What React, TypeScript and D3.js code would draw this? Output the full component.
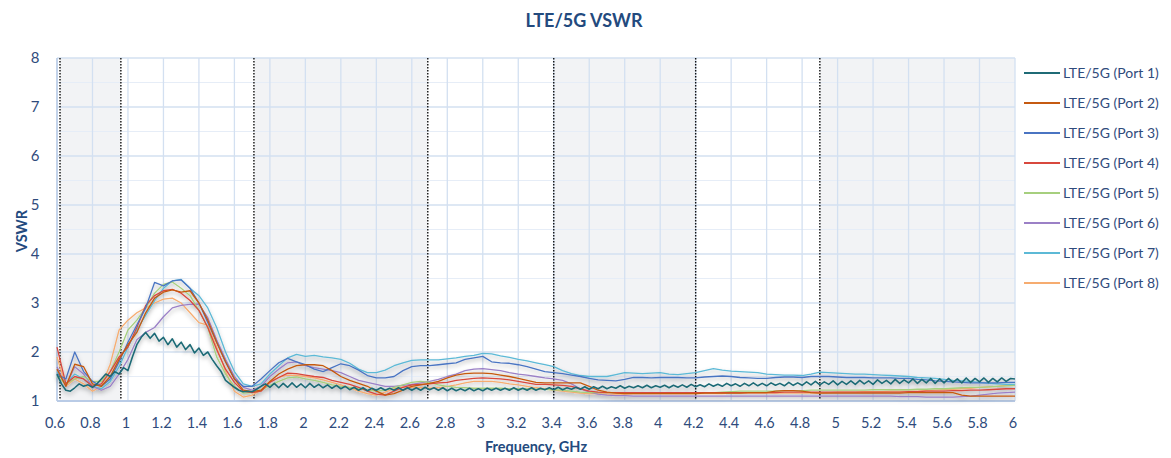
import * as d3 from "d3";
import React from "react";

// frequency grid for ports 2..8 (GHz): start + i * step
const GRID_START = 0.6;
const GRID_STEP = 0.05;
// port 1 is sampled finer, its ripple is visible
const P1_STEP = 0.025;

const port1 = [
  1.55, 1.35, 1.22, 1.2, 1.27, 1.35, 1.3, 1.33, 1.28, 1.35, 1.45, 1.55, 1.5, 1.6, 1.55, 1.68, 1.62, 1.9, 2.15, 2.3,
  2.4, 2.28, 2.38, 2.22, 2.3, 2.15, 2.27, 2.1, 2.2, 2.05, 2.15, 1.98, 2.08, 1.93, 2.0, 1.85, 1.72, 1.6, 1.42, 1.35,
  1.28, 1.22, 1.19, 1.2, 1.19, 1.24, 1.3, 1.35, 1.28, 1.36, 1.27, 1.36, 1.28, 1.37, 1.28, 1.35, 1.27, 1.36, 1.28, 1.34,
  1.27, 1.33, 1.26, 1.32, 1.25, 1.3, 1.23, 1.28, 1.22, 1.27, 1.21, 1.26, 1.22, 1.27, 1.22, 1.26, 1.22, 1.27, 1.22, 1.27,
  1.22, 1.27, 1.22, 1.28, 1.23, 1.27, 1.22, 1.27, 1.21, 1.26, 1.21, 1.25, 1.21, 1.26, 1.21, 1.25, 1.21, 1.26, 1.22, 1.26,
  1.22, 1.26, 1.22, 1.27, 1.22, 1.26, 1.22, 1.27, 1.22, 1.26, 1.23, 1.27, 1.23, 1.28, 1.23, 1.27, 1.24, 1.28, 1.24, 1.29,
  1.24, 1.29, 1.25, 1.3, 1.25, 1.29, 1.26, 1.31, 1.26, 1.3, 1.27, 1.31, 1.27, 1.32, 1.27, 1.31, 1.28, 1.32, 1.27, 1.32,
  1.28, 1.33, 1.28, 1.34, 1.29, 1.33, 1.29, 1.35, 1.3, 1.34, 1.3, 1.36, 1.31, 1.35, 1.3, 1.36, 1.31, 1.37, 1.31, 1.36,
  1.31, 1.37, 1.32, 1.36, 1.31, 1.38, 1.32, 1.37, 1.32, 1.39, 1.33, 1.4, 1.33, 1.39, 1.34, 1.41, 1.33, 1.4, 1.34, 1.41,
  1.34, 1.42, 1.35, 1.41, 1.34, 1.43, 1.36, 1.42, 1.35, 1.44, 1.36, 1.43, 1.37, 1.45, 1.36, 1.44, 1.37, 1.46, 1.36, 1.45,
  1.37, 1.46, 1.38, 1.45, 1.37, 1.47, 1.38, 1.46, 1.39, 1.47, 1.38, 1.46, 1.39, 1.47, 1.4, 1.46, 1.45,
];

const port2 = [
  1.65, 1.3, 1.75, 1.7, 1.35, 1.3, 1.5, 1.85, 2.15, 2.4,
  2.8, 3.1, 3.22, 3.27, 3.22, 3.25, 3.0, 2.65, 2.2, 1.8,
  1.45, 1.22, 1.19, 1.22, 1.4, 1.55, 1.65, 1.72, 1.74, 1.74,
  1.72, 1.62, 1.5, 1.42, 1.36, 1.3, 1.2, 1.12, 1.15, 1.22,
  1.3, 1.33, 1.36, 1.4, 1.47, 1.53, 1.56, 1.57, 1.57, 1.56,
  1.53, 1.5, 1.46, 1.42, 1.38, 1.37, 1.37, 1.37, 1.37, 1.37,
  1.3, 1.22, 1.18, 1.16, 1.15, 1.15, 1.15, 1.15, 1.15, 1.15,
  1.15, 1.15, 1.15, 1.16, 1.16, 1.16, 1.16, 1.16, 1.17, 1.17,
  1.17, 1.2, 1.21, 1.21, 1.2, 1.17, 1.16, 1.16, 1.16, 1.16,
  1.16, 1.16, 1.16, 1.16, 1.16, 1.16, 1.17, 1.17, 1.17, 1.17,
  1.17, 1.17, 1.12, 1.1, 1.1, 1.1, 1.1, 1.1, 1.1,
];

const port3 = [
  1.55, 1.45, 2.0, 1.6, 1.4, 1.3, 1.45, 1.8, 2.2, 2.55,
  2.9, 3.42, 3.35, 3.45, 3.47, 3.3, 3.0, 2.6, 2.2, 1.8,
  1.45, 1.3, 1.3, 1.45, 1.62, 1.78, 1.87, 1.8, 1.74, 1.65,
  1.6, 1.68, 1.76, 1.72, 1.63, 1.52, 1.47, 1.47, 1.5, 1.62,
  1.7, 1.72, 1.72, 1.74, 1.76, 1.78, 1.85, 1.88, 1.91, 1.8,
  1.78, 1.77, 1.74, 1.7, 1.65, 1.6, 1.58, 1.56, 1.53, 1.5,
  1.46, 1.43, 1.42, 1.41, 1.44, 1.48, 1.48, 1.47, 1.48, 1.48,
  1.48, 1.47, 1.47, 1.49, 1.5, 1.51, 1.5, 1.48, 1.47, 1.46,
  1.46, 1.48, 1.49, 1.49, 1.48, 1.5, 1.5, 1.5, 1.49, 1.48,
  1.48, 1.48, 1.47, 1.47, 1.47, 1.46, 1.46, 1.44, 1.43, 1.41,
  1.4, 1.39, 1.38, 1.37, 1.37, 1.37, 1.37, 1.38, 1.38,
];

const port4 = [
  2.1, 1.35, 1.5, 1.45, 1.3, 1.35, 1.6, 1.9, 2.1, 2.5,
  2.95, 3.15, 3.25, 3.28, 3.2, 3.05, 2.85, 2.5, 2.05, 1.65,
  1.38, 1.2, 1.17, 1.2, 1.38, 1.48, 1.57, 1.56, 1.53, 1.5,
  1.48, 1.42, 1.38, 1.34, 1.28, 1.2, 1.14, 1.12, 1.2, 1.28,
  1.33, 1.34, 1.35, 1.37, 1.38, 1.42, 1.44, 1.46, 1.47, 1.46,
  1.45, 1.43, 1.4, 1.37, 1.34, 1.34, 1.33, 1.32, 1.3, 1.25,
  1.2, 1.18, 1.17, 1.17, 1.17, 1.17, 1.17, 1.17, 1.17, 1.17,
  1.17, 1.17, 1.17, 1.17, 1.17, 1.17, 1.17, 1.17, 1.17, 1.17,
  1.17, 1.17, 1.18, 1.18, 1.18, 1.18, 1.18, 1.18, 1.18, 1.18,
  1.18, 1.18, 1.18, 1.18, 1.18, 1.18, 1.19, 1.19, 1.2, 1.2,
  1.2, 1.21, 1.21, 1.22, 1.22, 1.23, 1.24, 1.25, 1.25,
];

const port5 = [
  1.5, 1.35, 1.45, 1.5, 1.4, 1.4, 1.6, 2.0, 2.45, 2.65,
  2.9, 3.2, 3.38, 3.43, 3.3, 3.15, 2.85, 2.5, 1.9, 1.55,
  1.3, 1.16, 1.17, 1.22, 1.32, 1.4, 1.47, 1.49, 1.45, 1.42,
  1.38, 1.33, 1.3, 1.28, 1.25, 1.22, 1.2, 1.22, 1.28, 1.33,
  1.38, 1.4, 1.38, 1.33, 1.3, 1.28, 1.27, 1.26, 1.26, 1.26,
  1.26, 1.25, 1.25, 1.25, 1.24, 1.24, 1.23, 1.22, 1.2, 1.18,
  1.17, 1.17, 1.17, 1.17, 1.17, 1.17, 1.17, 1.17, 1.17, 1.17,
  1.17, 1.17, 1.17, 1.17, 1.17, 1.18, 1.19, 1.2, 1.2, 1.2,
  1.2, 1.2, 1.21, 1.21, 1.21, 1.22, 1.22, 1.22, 1.22, 1.22,
  1.22, 1.22, 1.23, 1.23, 1.23, 1.23, 1.23, 1.24, 1.24, 1.25,
  1.25, 1.26, 1.27, 1.28, 1.28, 1.29, 1.3, 1.31, 1.32,
];

const port6 = [
  1.7, 1.3, 1.7, 1.55, 1.3, 1.22, 1.3, 1.55, 1.85, 2.25,
  2.4, 2.5, 2.72, 2.9, 2.95, 2.97, 2.98, 2.7, 2.25, 1.85,
  1.5, 1.28, 1.22, 1.3, 1.5, 1.65, 1.78, 1.8, 1.72, 1.68,
  1.65, 1.62, 1.58, 1.5, 1.42, 1.38, 1.34, 1.3, 1.3, 1.32,
  1.34, 1.37, 1.4, 1.44, 1.5, 1.55, 1.62, 1.65, 1.66, 1.64,
  1.62, 1.58, 1.55, 1.53, 1.5, 1.47, 1.45, 1.42, 1.35, 1.25,
  1.18, 1.14, 1.12, 1.11, 1.11, 1.1, 1.1, 1.1, 1.1, 1.1,
  1.1, 1.1, 1.1, 1.1, 1.1, 1.1, 1.1, 1.1, 1.1, 1.1,
  1.1, 1.1, 1.1, 1.1, 1.1, 1.1, 1.1, 1.1, 1.1, 1.1,
  1.1, 1.1, 1.1, 1.1, 1.1, 1.09, 1.09, 1.09, 1.08, 1.08,
  1.08, 1.08, 1.09, 1.1, 1.12, 1.14, 1.16, 1.17, 1.18,
];

const port7 = [
  1.6, 1.35, 1.55, 1.45, 1.3, 1.25, 1.4, 1.7, 2.1, 2.45,
  2.75, 3.05, 3.3, 3.45, 3.48, 3.3, 3.15, 2.9, 2.5, 2.0,
  1.6, 1.35, 1.3, 1.35, 1.55, 1.72, 1.88, 1.95, 1.91, 1.93,
  1.9, 1.88, 1.85, 1.77, 1.65, 1.58, 1.58, 1.63, 1.72, 1.78,
  1.83, 1.84, 1.84, 1.84, 1.86, 1.88, 1.91, 1.93, 1.97, 1.96,
  1.92, 1.89, 1.85, 1.82, 1.78, 1.74, 1.7, 1.62, 1.56, 1.52,
  1.5, 1.5, 1.5, 1.54, 1.58, 1.57, 1.56, 1.57, 1.58, 1.55,
  1.54, 1.56, 1.58, 1.62, 1.66, 1.63, 1.61, 1.6, 1.59, 1.58,
  1.55, 1.54, 1.53, 1.53, 1.52, 1.55, 1.59, 1.58, 1.57, 1.56,
  1.55, 1.55, 1.54, 1.53, 1.52, 1.51, 1.5, 1.48, 1.47, 1.46,
  1.44, 1.42, 1.41, 1.4, 1.38, 1.36, 1.35, 1.34, 1.34,
];

const port8 = [
  1.9, 1.3, 1.45, 1.35, 1.2, 1.3, 1.75, 2.45, 2.65, 2.8,
  2.9, 3.0, 3.08, 3.1, 3.0, 2.8, 2.6, 2.55, 2.1, 1.6,
  1.2, 1.08, 1.12, 1.22, 1.4, 1.48, 1.53, 1.52, 1.5, 1.47,
  1.43, 1.38, 1.33, 1.27, 1.2, 1.15, 1.12, 1.18, 1.25, 1.29,
  1.28, 1.27, 1.26, 1.27, 1.3, 1.33, 1.37, 1.4, 1.4, 1.4,
  1.38, 1.35, 1.33, 1.3, 1.27, 1.25, 1.22, 1.2, 1.18, 1.16,
  1.15, 1.15, 1.14, 1.14, 1.14, 1.15, 1.15, 1.15, 1.15, 1.15,
  1.15, 1.15, 1.15, 1.15, 1.15, 1.15, 1.16, 1.16, 1.16, 1.16,
  1.16, 1.16, 1.16, 1.16, 1.16, 1.16, 1.16, 1.17, 1.18, 1.18,
  1.18, 1.19, 1.19, 1.19, 1.2, 1.2, 1.2, 1.2, 1.21, 1.22,
  1.23, 1.24, 1.25, 1.26, 1.28, 1.29, 1.3, 1.32, 1.33,
];

const seriesNames = [
  "LTE/5G (Port 1)",
  "LTE/5G (Port 2)",
  "LTE/5G (Port 3)",
  "LTE/5G (Port 4)",
  "LTE/5G (Port 5)",
  "LTE/5G (Port 6)",
  "LTE/5G (Port 7)",
  "LTE/5G (Port 8)",
];
const seriesColors = ["#1f6b76", "#c55a11", "#4a74c2", "#d8483e", "#a6cf7e", "#9b80c6", "#5cb9d6", "#f6ac70"];

// band edges (GHz) marked with dotted lines, shaded bands between pairs
const bandEdges = [0.617, 0.96, 1.71, 2.69, 3.4, 4.2, 4.9];
const shadedBands = [[0.617, 0.96], [1.71, 2.69], [3.4, 4.2], [4.9, 6.0]];

const xTicks = [0.6, 0.8, 1, 1.2, 1.4, 1.6, 1.8, 2, 2.2, 2.4, 2.6, 2.8, 3, 3.2, 3.4, 3.6, 3.8, 4, 4.2, 4.4, 4.6, 4.8, 5, 5.2, 5.4, 5.6, 5.8, 6];
const yTicks = [1, 2, 3, 4, 5, 6, 7, 8];
const yMinorTicks = [1.5, 2.5, 3.5, 4.5, 5.5, 6.5, 7.5];

const W = 1171;
const H = 458;
const plot = { left: 57, right: 1015, top: 58, bottom: 401 };
const textColor = "#2f4b7c";
const titleColor = "#234a7e";
const font = "Lato, 'Open Sans', sans-serif";

const App = () => {
  const x = d3.scaleLinear().domain([0.6, 6]).range([plot.left, plot.right]);
  const y = d3.scaleLinear().domain([1, 8]).range([plot.bottom, plot.top]);

  const allSeries = [port1, port2, port3, port4, port5, port6, port7, port8].map((vals, k) => {
    const step = k === 0 ? P1_STEP : GRID_STEP;
    return vals.map((v, i) => [GRID_START + i * step, v] as [number, number]);
  });

  const line = d3
    .line<[number, number]>()
    .x(d => x(d[0]))
    .y(d => y(d[1]));

  const fmt = d3.format("~g");

  // later ports first so port 1 stays visible
  const drawOrder = [7, 6, 5, 4, 3, 2, 1, 0];

  return (
    <div style={{ position: "absolute", left: 0, top: 0 }}>
      <svg width={W} height={H} style={{ display: "block", background: "#fff" }}>
        <defs>
          <filter id="shadow" x="-5%" y="-20%" width="110%" height="140%">
            <feDropShadow dx="0" dy="2.5" stdDeviation="2" floodColor="#000" floodOpacity="0.3" />
          </filter>
        </defs>

        <text x={584} y={27} textAnchor="middle" fontFamily={font} fontWeight="bold" fontSize={18} fill={titleColor}>
          LTE/5G VSWR
        </text>

        {/* shaded bands */}
        {shadedBands.map(([a, b], i) => (
          <rect key={i} x={x(a)} y={plot.top} width={x(b) - x(a)} height={plot.bottom - plot.top} fill="#f2f3f5" />
        ))}

        {/* grid */}
        {yMinorTicks.map(t => (
          <line key={"ym" + t} x1={plot.left} x2={plot.right} y1={y(t)} y2={y(t)} stroke="#e6edf7" strokeWidth={1} />
        ))}
        {yTicks.map(t => (
          <line key={"y" + t} x1={plot.left} x2={plot.right} y1={y(t)} y2={y(t)} stroke="#d3e0f1" strokeWidth={1.3} />
        ))}
        {xTicks.map(t => (
          <line key={"x" + t} x1={x(t)} x2={x(t)} y1={plot.top} y2={plot.bottom} stroke="#d3e0f1" strokeWidth={1.3} />
        ))}

        {/* band edge markers */}
        {bandEdges.map(f => (
          <line
            key={"b" + f}
            x1={x(f)}
            x2={x(f)}
            y1={plot.top}
            y2={plot.bottom + 2}
            stroke="#111"
            strokeWidth={1.4}
            strokeDasharray="1.5,1.5"
          />
        ))}

        {/* axes */}
        <line x1={plot.left} x2={plot.left} y1={plot.top} y2={plot.bottom} stroke="#b9cbe6" strokeWidth={1.5} />
        <line x1={plot.left} x2={plot.right} y1={plot.bottom} y2={plot.bottom} stroke="#b9cbe6" strokeWidth={2} />

        {/* series */}
        <g filter="url(#shadow)">
          {drawOrder.map(k => (
            <path
              key={k}
              d={line(allSeries[k]) || ""}
              fill="none"
              stroke={seriesColors[k]}
              strokeWidth={k === 0 ? 1.6 : 1.3}
              strokeLinejoin="round"
            />
          ))}
        </g>

        {/* tick labels */}
        {yTicks.map(t => (
          <text key={"yl" + t} x={35} y={y(t) + 5} textAnchor="middle" fontFamily={font} fontSize={15} fill={textColor}>
            {t}
          </text>
        ))}
        {xTicks.map(t => (
          <text key={"xl" + t} x={x(t) - 2} y={428} textAnchor="middle" fontFamily={font} fontSize={14.5} fill={textColor}>
            {fmt(t)}
          </text>
        ))}

        {/* axis titles */}
        <text
          transform={`translate(27, 231) rotate(-90)`}
          textAnchor="middle"
          fontFamily={font}
          fontWeight="bold"
          fontSize={14.5}
          fill={titleColor}
        >
          VSWR
        </text>
        <text x={536} y={452} textAnchor="middle" fontFamily={font} fontWeight="bold" fontSize={14.5} fill={titleColor}>
          Frequency, GHz
        </text>

        {/* legend */}
        {seriesNames.map((name, i) => {
          const ly = 73 + i * 30;
          return (
            <g key={name}>
              <line x1={1024} x2={1060} y1={ly} y2={ly} stroke={seriesColors[i]} strokeWidth={1.8} />
              <text x={1063} y={ly + 5} fontFamily={font} fontSize={14} fill={textColor}>
                {name}
              </text>
            </g>
          );
        })}
      </svg>
    </div>
  );
};

export default App;
